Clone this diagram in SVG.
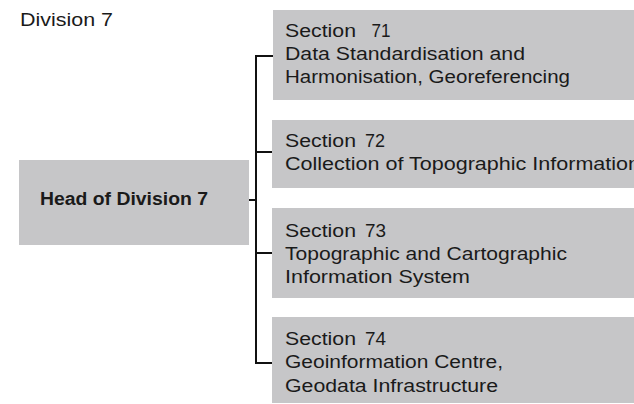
<svg xmlns="http://www.w3.org/2000/svg" width="634" height="404" viewBox="0 0 634 404">
<style>
  .box { fill: #c6c6c8; }
  .t { font-family: "Liberation Sans", Arial, sans-serif; font-size: 17.5px; fill: #1a1a1a; }
  .b { font-weight: bold; }
  .conn { fill: none; stroke: #111; stroke-width: 2; }
</style>
<rect width="634" height="404" fill="#ffffff"/>
<text class="t" x="20" y="26" textLength="93" lengthAdjust="spacingAndGlyphs">Division 7</text>
<g id="connectors">
  <path class="conn" d="M256 56 V363"/>
  <path class="conn" d="M255 56 H273"/>
  <path class="conn" d="M255 152 H273"/>
  <path class="conn" d="M255 253 H273"/>
  <path class="conn" d="M255 363 H273"/>
  <path class="conn" d="M249 200 H257"/>
</g>
<g id="head">
  <rect class="box" x="19" y="160" width="230" height="85"/>
  <text class="t b" x="40" y="205" textLength="168" lengthAdjust="spacingAndGlyphs">Head of Division 7</text>
</g>
<g id="section71">
  <rect class="box" x="273" y="10" width="361" height="90"/>
  <text class="t"><tspan x="285" y="36.5" textLength="71" lengthAdjust="spacingAndGlyphs">Section</tspan><tspan x="371.5" y="36.5" textLength="19" lengthAdjust="spacingAndGlyphs">71</tspan></text>
  <text class="t" x="285" y="60" textLength="240" lengthAdjust="spacingAndGlyphs">Data Standardisation and</text>
  <text class="t" x="285" y="83" textLength="285" lengthAdjust="spacingAndGlyphs">Harmonisation, Georeferencing</text>
</g>
<g id="section72">
  <rect class="box" x="272" y="120" width="362" height="68"/>
  <text class="t"><tspan x="285" y="146.5" textLength="71" lengthAdjust="spacingAndGlyphs">Section</tspan><tspan x="365" y="146.5" textLength="20" lengthAdjust="spacingAndGlyphs">72</tspan></text>
  <text class="t" x="285" y="170" textLength="355" lengthAdjust="spacingAndGlyphs">Collection of Topographic Information</text>
</g>
<g id="section73">
  <rect class="box" x="272" y="208" width="362" height="90"/>
  <text class="t"><tspan x="285" y="236.5" textLength="71" lengthAdjust="spacingAndGlyphs">Section</tspan><tspan x="365" y="236.5" textLength="21" lengthAdjust="spacingAndGlyphs">73</tspan></text>
  <text class="t" x="285" y="260" textLength="282" lengthAdjust="spacingAndGlyphs">Topographic and Cartographic</text>
  <text class="t" x="285" y="283" textLength="185" lengthAdjust="spacingAndGlyphs">Information System</text>
</g>
<g id="section74">
  <rect class="box" x="272" y="317" width="362" height="86"/>
  <text class="t"><tspan x="285" y="345" textLength="71" lengthAdjust="spacingAndGlyphs">Section</tspan><tspan x="365" y="345" textLength="21" lengthAdjust="spacingAndGlyphs">74</tspan></text>
  <text class="t" x="285" y="368" textLength="218" lengthAdjust="spacingAndGlyphs">Geoinformation Centre,</text>
  <text class="t" x="285" y="392" textLength="213" lengthAdjust="spacingAndGlyphs">Geodata Infrastructure</text>
</g>
</svg>
